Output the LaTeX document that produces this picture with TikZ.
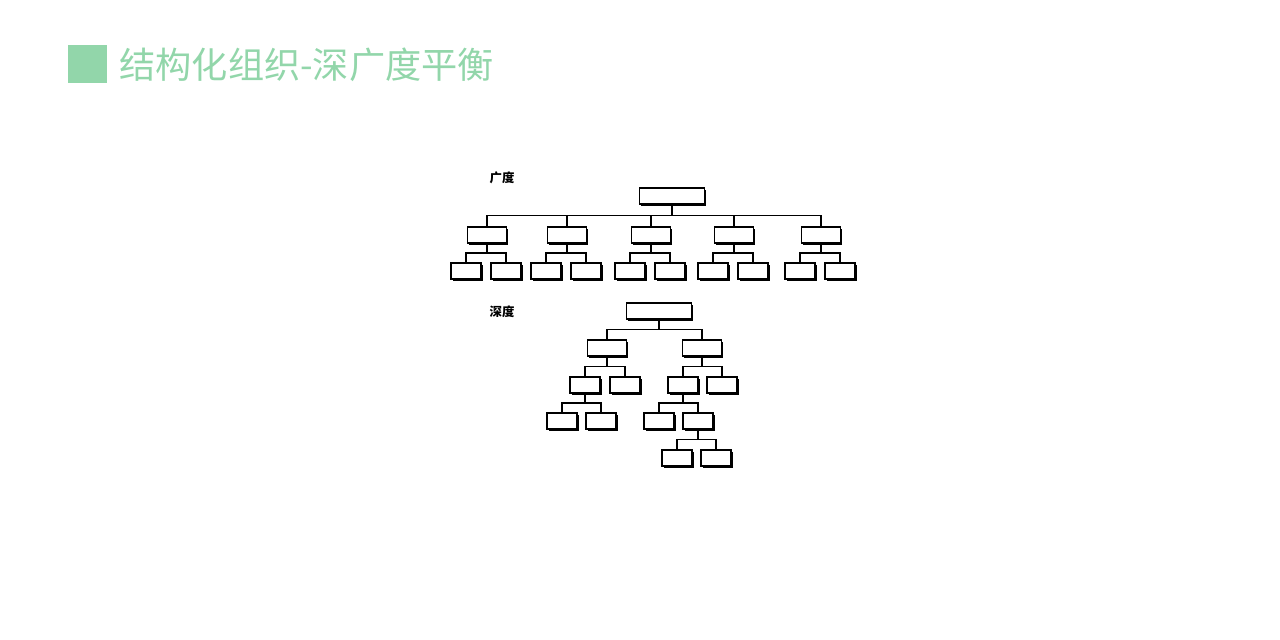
\documentclass[tikz,border=0pt]{standalone}
\usepackage{fontspec}
\newfontfamily\cjk{Noto Sans CJK SC}
\usetikzlibrary{
  calc,
  shadows,
}
\definecolor{titlegreen}{RGB}{146,214,170}
\tikzset{
  box/.style={draw, line width=0.6pt, fill=white, inner sep=0pt,
    minimum width=20pt, minimum height=8pt,
    general shadow={fill=black, shadow xshift=0.9pt, shadow yshift=-0.9pt}},
  wide/.style={box, minimum width=32.5pt},
  mid/.style={box, minimum width=19.5pt},
  leaf/.style={box, minimum width=15pt},
  link/.style={line width=0.6pt, to path={(\tikztostart.south) |- ($(\tikztostart.south)!.5!(\tikztotarget.north)$) -| (\tikztotarget.north)}},
  tag/.style={font=\cjk\bfseries\fontsize{6.2pt}{7pt}\selectfont},
}

\begin{document}
\begin{tikzpicture}[x=0.5pt, y=-0.5pt]
\useasboundingbox (0,0) rectangle (1280,640);
\fill[titlegreen] (68,45) rectangle (107,83);
\node[anchor=west, inner sep=0pt, text=titlegreen, font=\cjk\fontsize{18.1pt}{20pt}\selectfont] (title) at (119,65) {结构化组织-深广度平衡};

% breadth
\node[tag] (blabel) at (502,178) {广度};
\node[wide] (B) at (672,196) {};
\foreach \i/\x in {1/487,2/567,3/651,4/734,5/821} {
  \node[mid] (B\i) at (\x,235) {};
  \node[leaf] (B\i a) at (\x-21,271) {};
  \node[leaf] (B\i b) at (\x+19,271) {};
  \draw[link] (B) to (B\i);
  \draw[link] (B\i) to (B\i a);
  \draw[link] (B\i) to (B\i b);
}

% depth
\node[tag] (dlabel) at (502,312) {深度};
\node[wide] (D) at (659,311) {};
\node[mid] (Dl) at (607,348) {};
\node[mid] (Dr) at (702,348) {};
\node[leaf] (Dla) at (585,385) {};
\node[leaf] (Dlb) at (625,385) {};
\node[leaf] (Dra) at (683,385) {};
\node[leaf] (Drb) at (722,385) {};
\node[leaf] (Dlaa) at (562,421) {};
\node[leaf] (Dlab) at (601,421) {};
\node[leaf] (Draa) at (659,421) {};
\node[leaf] (Drab) at (698,421) {};
\node[leaf] (Draba) at (677,458) {};
\node[leaf] (Drabb) at (716,458) {};
\foreach \p/\c in {D/Dl,D/Dr,Dl/Dla,Dl/Dlb,Dr/Dra,Dr/Drb,Dla/Dlaa,Dla/Dlab,Dra/Draa,Dra/Drab,Drab/Draba,Drab/Drabb}
  \draw[link] (\p) to (\c);
\end{tikzpicture}
\end{document}
